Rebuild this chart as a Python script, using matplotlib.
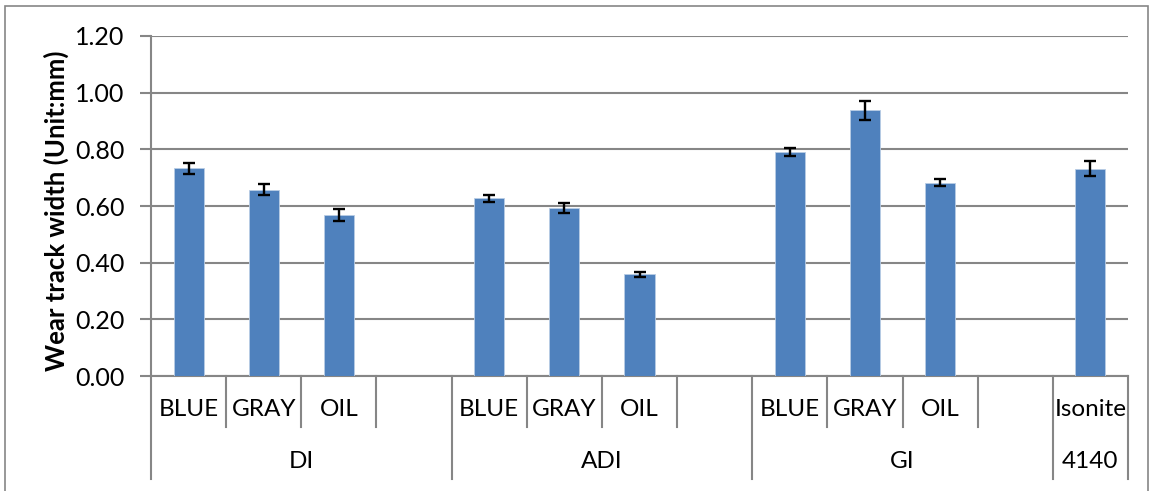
import numpy as np
import matplotlib
matplotlib.use("Agg")
import matplotlib.pyplot as plt
from matplotlib.transforms import blended_transform_factory
from matplotlib.patches import Rectangle

# ---- data ----
sub_labels = ["BLUE", "GRAY", "OIL", "",
              "BLUE", "GRAY", "OIL", "",
              "BLUE", "GRAY", "OIL", "",
              "Isonite"]
group_labels = ["DI", "ADI", "GI", "4140"]
group_sizes = [4, 4, 4, 1]
values = [0.733, 0.658, 0.568, np.nan,
          0.627, 0.594, 0.359, np.nan,
          0.791, 0.938, 0.682, np.nan,
          0.732]
errors = [0.020, 0.019, 0.020, np.nan,
          0.012, 0.018, 0.008, np.nan,
          0.014, 0.034, 0.012, np.nan,
          0.027]
y_ticks = [0.0, 0.2, 0.4, 0.6, 0.8, 1.0, 1.2]
y_label = "Wear track width (Unit:mm)"

plt.rcParams['font.family'] = ['Lato', 'DejaVu Sans']

W, H = 1155, 491
fig = plt.figure(figsize=(W / 100, H / 100), dpi=100)
ax = fig.add_axes([151 / W, (H - 376) / H, (1128 - 151) / W, (376 - 36) / H])

x = np.arange(len(sub_labels))
ax.bar(x, values, width=0.4, color="#4F81BD", edgecolor="#B9CDE5", linewidth=0.6, zorder=3)
ax.errorbar(x, values, yerr=errors, fmt="none", ecolor="black", elinewidth=1.7,
            capsize=4.5, capthick=1.7, zorder=4)

ax.set_xlim(-0.5, len(sub_labels) - 0.5)
ax.set_ylim(0, 1.2)
ax.set_yticks(y_ticks)
ax.set_yticklabels([f"{v:.2f}" for v in y_ticks], fontsize=18)
ax.yaxis.grid(True, color="#868686", linewidth=1.5, zorder=0)
ax.set_axisbelow(True)
ax.tick_params(axis="y", length=8, width=1.5, color="#868686", pad=11)
ax.set_xticks([])
for s in ["top", "right"]:
    ax.spines[s].set_visible(False)
for s in ["left", "bottom"]:
    ax.spines[s].set_color("#868686")
    ax.spines[s].set_linewidth(1.5)

fig.text(56 / W, (H - 211) / H, y_label, rotation=90, ha="center", va="center",
         fontsize=18.5, fontweight="bold")

# ---- multi-level category axis ----
trans = blended_transform_factory(ax.transData, fig.transFigure)
inner_bottom = (H - 427) / H
outer_bottom = (H - 479) / H
axis_y = (H - 376) / H
inner_text_y = (H - 410) / H
outer_text_y = (H - 462) / H

group_edges = np.concatenate([[0], np.cumsum(group_sizes)]) - 0.5
for i in range(len(sub_labels) + 1):
    xe = i - 0.5
    bottom = outer_bottom if np.any(np.isclose(group_edges, xe)) else inner_bottom
    ax.plot([xe, xe], [axis_y, bottom], transform=trans, color="#868686",
            linewidth=1.5, clip_on=False)
for i, lab in enumerate(sub_labels):
    if lab:
        fig.text(i, inner_text_y, lab, transform=trans, ha="center", va="center",
                 fontsize=17.5)
for g, lab in enumerate(group_labels):
    center = (group_edges[g] + group_edges[g + 1]) / 2
    fig.text(center, outer_text_y, lab, transform=trans, ha="center", va="center",
             fontsize=17.5)

# chart border
fig.patches.append(Rectangle((5 / W, -0.05), (1148 - 5) / W, (H - 6) / H + 0.05,
                             transform=fig.transFigure, fill=False,
                             edgecolor="#868686", linewidth=1.2))

fig.savefig("out.png", dpi=100)
